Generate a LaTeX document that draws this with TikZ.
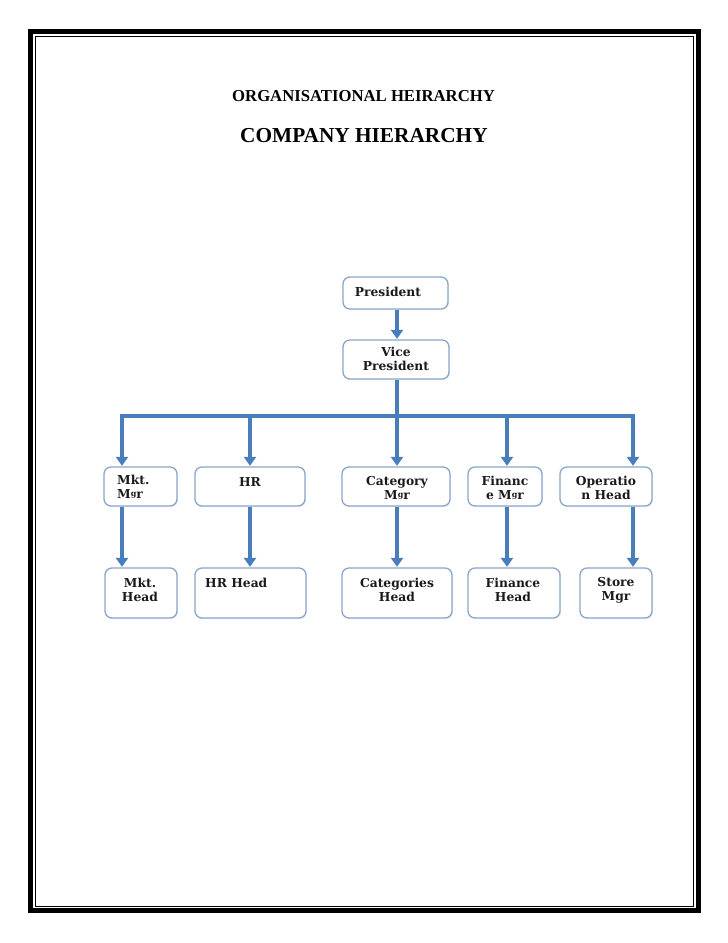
\documentclass[tikz,border=0pt]{standalone}
\usepackage{fontspec}
\setmainfont{Liberation Serif}
\newfontfamily\boxfont{DejaVu Serif}
\usetikzlibrary{arrows.meta,shadows}
\definecolor{arrblue}{HTML}{4A7EBB}
\definecolor{boxline}{HTML}{8AA6C9}
\definecolor{ink}{HTML}{1A1A1A}
\newcommand{\mgr}{M\raisebox{0.35ex}{\fontsize{8}{8}\selectfont g}r}
\tikzset{
  box/.style={draw=boxline, line width=1.3pt, rounded corners=7pt, fill=white,
    drop shadow={opacity=0.12, shadow xshift=1.2pt, shadow yshift=-1.2pt}, inner sep=0pt},
  lbl/.style={font=\boxfont\bfseries\fontsize{12.3}{14}\selectfont, text=ink, align=center, inner sep=0pt},
  wire/.style={draw=arrblue, line width=3.4pt},
  arr/.style={wire, -{Triangle[width=12pt,length=9pt]}, shorten >=0.5pt},
}
\newcommand{\bx}[5]{\node[box, minimum width={(#4-#2)*1pt}, minimum height={(#5-#3)*1pt}] (#1) at ({(#2+#4)/2},{(#3+#5)/2}) {};}
\begin{document}
\begin{tikzpicture}[x=1pt,y=-1pt]
\useasboundingbox (0,0) rectangle (728,943);
% page border
\draw[line width=5pt] (30.5,31.5) rectangle (698,910.5);
\draw[line width=1pt] (35,36) rectangle (693,906);
% titles
\node[anchor=base west, inner sep=0pt, font=\bfseries\fontsize{16.7}{20}\selectfont] (t1) at (232,101) {ORGANISATIONAL HEIRARCHY};
\node[anchor=base west, inner sep=0pt, font=\bfseries\fontsize{21.3}{26}\selectfont] (t2) at (240,142) {COMPANY HIERARCHY};
% boxes
\bx{pres}{343}{277}{448}{309}
\bx{vp}{343}{340}{449}{379}
\bx{mm}{104}{467}{177}{506}
\bx{hr}{195}{467}{305}{506}
\bx{cm}{342}{467}{450}{506}
\bx{fm}{468}{467}{542}{506}
\bx{oh}{560}{467}{652}{506}
\bx{mh}{105}{568}{177}{618}
\bx{hh}{195}{568}{306}{618}
\bx{ch}{342}{568}{452}{618}
\bx{fh}{468}{568}{560}{618}
\bx{sm}{580}{568}{652}{618}
% labels
\node[lbl] (lpres) at (388,292) {President};
\node[lbl] (lvp) at (396,359) {Vice\\President};
\node[lbl, align=left, anchor=west] (lmm) at (117,487) {Mkt.\\\mgr};
\node[lbl] (lhr) at (250,482) {HR};
\node[lbl] (lcm) at (397,488) {Category\\\mgr};
\node[lbl] (lfm) at (505,488) {Financ\\e \mgr};
\node[lbl] (loh) at (606,488) {Operatio\\n Head};
\node[lbl] (lmh) at (140,590) {Mkt.\\Head};
\node[lbl, anchor=west] (lhh) at (205,583) {HR Head};
\node[lbl] (lch) at (397,590) {Categories\\Head};
\node[lbl] (lfh) at (513,590) {Finance\\Head};
\node[lbl] (lsm) at (616,590) {Store\\Mgr};
% connectors
\coordinate (bvp) at (397,416);
\coordinate (b1) at (122,416);
\coordinate (b2) at (250,416);
\coordinate (b3) at (397,416);
\coordinate (b4) at (507,416);
\coordinate (b5) at (633,416);
\draw[arr] (pres.south -| 397,0) -- (vp.north -| 397,0);
\draw[wire] (vp.south -| bvp) -- (bvp);
\draw[wire] ([xshift=-1.7pt]b1) -- ([xshift=1.7pt]b5);
\draw[arr] ([yshift=1.7pt]b1) -- (b1 |- mm.north);
\draw[arr] (b2) -- (b2 |- hr.north);
\draw[arr] (b3) -- (b3 |- cm.north);
\draw[arr] (b4) -- (b4 |- fm.north);
\draw[arr] ([yshift=1.7pt]b5) -- (b5 |- oh.north);
\draw[arr] (b1 |- mm.south) -- (b1 |- mh.north);
\draw[arr] (b2 |- hr.south) -- (b2 |- hh.north);
\draw[arr] (b3 |- cm.south) -- (b3 |- ch.north);
\draw[arr] (b4 |- fm.south) -- (b4 |- fh.north);
\draw[arr] (b5 |- oh.south) -- (b5 |- sm.north);
\end{tikzpicture}
\end{document}
